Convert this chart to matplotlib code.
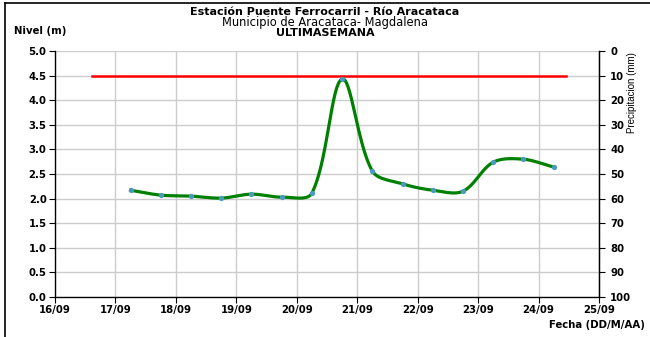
import numpy as np
import matplotlib
matplotlib.use("Agg")
import matplotlib.pyplot as plt
from matplotlib.lines import Line2D

plt.rcParams['font.family'] = ['DejaVu Sans']

# ---- data ----
days = [17.25, 17.75, 18.25, 18.75, 19.25, 19.75, 20.25, 20.75,
        21.25, 21.75, 22.25, 22.75, 23.25, 23.75, 24.25]
nivel = [2.17, 2.07, 2.05, 2.01, 2.09, 2.03, 2.11, 4.43,
         2.56, 2.30, 2.17, 2.15, 2.74, 2.80, 2.64]
threshold_x = [16.62, 24.45]
threshold_level = [4.5, 4.5]
xtick_pos = [16, 17, 18, 19, 20, 21, 22, 23, 24, 25]
xtick_labels = ["16/09", "17/09", "18/09", "19/09", "20/09",
                "21/09", "22/09", "23/09", "24/09", "25/09"]
ytick_left = [0.0, 0.5, 1.0, 1.5, 2.0, 2.5, 3.0, 3.5, 4.0, 4.5, 5.0]
ytick_right = [0, 10, 20, 30, 40, 50, 60, 70, 80, 90, 100]


def smooth_display(ax, x, y, n=40):
    """Excel-like smoothed line: cubic Bezier through points, in display space."""
    P = ax.transData.transform(np.column_stack([x, y]).astype(float))
    m = len(P)
    out = []
    for i in range(m - 1):
        p0 = P[i - 1] if i > 0 else P[i]
        p1 = P[i]
        p2 = P[i + 1]
        p3 = P[i + 2] if i + 2 < m else P[i + 1]
        d01 = np.hypot(*(p1 - p0))
        d12 = np.hypot(*(p2 - p1))
        d23 = np.hypot(*(p3 - p2))
        w1 = d12 / (d01 + d12) if (d01 + d12) > 0 else 0.5
        w2 = d12 / (d12 + d23) if (d12 + d23) > 0 else 0.5
        c1 = p1 + (p2 - p0) * w1 / 3.0
        c2 = p2 - (p3 - p1) * w2 / 3.0
        t = np.linspace(0, 1, n)[:, None]
        seg = ((1 - t) ** 3) * p1 + 3 * ((1 - t) ** 2) * t * c1 + 3 * (1 - t) * t ** 2 * c2 + t ** 3 * p2
        out.append(seg if i == 0 else seg[1:])
    out = np.vstack(out)
    d = ax.transData.inverted().transform(out)
    return d[:, 0], d[:, 1]


fig = plt.figure(figsize=(6.5, 3.37), dpi=100)
ax = fig.add_axes([55 / 650, 1 - 297 / 337, (599 - 55) / 650, (297 - 51) / 337])

ax.set_xlim(16, 25)
ax.set_ylim(0, 5)
ax.set_xticks(xtick_pos)
ax.set_xticklabels(xtick_labels)
ax.set_yticks(ytick_left)
ax.set_yticklabels([f"{v:.1f}" for v in ytick_left])
ax.grid(True, color='#cccccc', linewidth=1.0)
ax.set_axisbelow(True)
ax.spines['top'].set_visible(False)
for s in ['left', 'bottom', 'right']:
    ax.spines[s].set_color('black')
    ax.spines[s].set_linewidth(0.9)
ax.tick_params(axis='both', labelsize=7.3, length=4, width=0.8, direction='out', pad=2)
for lab in ax.get_xticklabels() + ax.get_yticklabels():
    lab.set_fontweight('bold')

ax.plot(threshold_x, threshold_level, color='#ff0000', linewidth=1.8, zorder=3)
sx, sy = smooth_display(ax, days, nivel)
ax.plot(sx, sy, color='#008000', linewidth=2.3, zorder=4)
ax.plot(days, nivel, linestyle='none', marker='o', markersize=3.8,
        color='#4a9ac0', markeredgewidth=0, zorder=5)

ax2 = ax.twinx()
ax2.set_ylim(100, 0)
ax2.set_yticks(ytick_right)
ax2.set_yticklabels([str(v) for v in ytick_right])
ax2.spines['top'].set_visible(False)
ax2.spines['right'].set_linewidth(0.9)
ax2.tick_params(axis='y', labelsize=7.3, length=4, width=0.8, direction='out', pad=4)
for lab in ax2.get_yticklabels():
    lab.set_fontweight('bold')

# titles and labels
fig.text(325 / 650, 1 - 12 / 337, "Estación Puente Ferrocarril - Río Aracataca",
         ha='center', va='center', fontsize=8, fontweight='bold')
fig.text(325 / 650, 1 - 22.5 / 337, "Municipio de Aracataca- Magdalena",
         ha='center', va='center', fontsize=8.3)
fig.text(325 / 650, 1 - 33 / 337, "ULTIMASEMANA",
         ha='center', va='center', fontsize=8, fontweight='bold')
fig.text(14 / 650, 1 - 31 / 337, "Nivel (m)", ha='left', va='center',
         fontsize=7.3, fontweight='bold')
fig.text(645 / 650, 1 - 325 / 337, "Fecha (DD/M/AA)", ha='right', va='center',
         fontsize=7.3, fontweight='bold')
fig.text(632 / 650, 1 - 52 / 337, "Precipitacion (mm)", ha='center', va='top',
         rotation=90, fontsize=7, family=['Liberation Sans', 'DejaVu Sans'])

# partial frame
fig.add_artist(Line2D([5 / 650, 1.0], [1 - 3 / 337, 1 - 3 / 337], color='black', linewidth=1.2,
                      transform=fig.transFigure))
fig.add_artist(Line2D([5 / 650, 5 / 650], [0, 1 - 3 / 337], color='black', linewidth=1.2,
                      transform=fig.transFigure))

fig.savefig("out.png", dpi=100)
